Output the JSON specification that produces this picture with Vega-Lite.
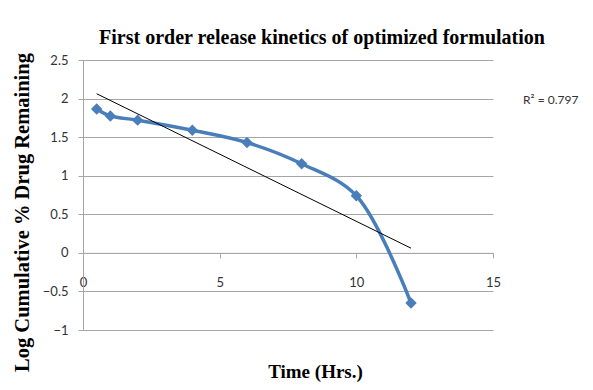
{
  "$schema": "https://vega.github.io/schema/vega-lite/v6.json",
  "autosize": {"type": "none"},
  "width": 410,
  "height": 270,
  "padding": {"left": 83, "top": 60, "right": 100, "bottom": 60},
  "background": "white",
  "title": {
    "text": "First order release kinetics of optimized formulation",
    "font": "Liberation Serif",
    "fontSize": 20,
    "fontWeight": "bold",
    "color": "#000000",
    "anchor": "middle",
    "dx": 34,
    "offset": 5
  },
  "config": {
    "view": {"stroke": null},
    "axis": {
      "labelFont": "Lato",
      "labelFontSize": 13,
      "labelColor": "#333333",
      "labelOverlap": false,
      "labelFlush": false,
      "titleFont": "Liberation Serif",
      "titleFontWeight": "bold",
      "titleColor": "#000000",
      "domainColor": "#a6a6a6",
      "tickColor": "#a6a6a6",
      "gridColor": "#a6a6a6"
    }
  },
  "datasets": {
    "release": [
      {"time": 0.5, "logRemaining": 1.865},
      {"time": 1, "logRemaining": 1.775},
      {"time": 2, "logRemaining": 1.72},
      {"time": 4, "logRemaining": 1.59},
      {"time": 6, "logRemaining": 1.43},
      {"time": 8, "logRemaining": 1.155},
      {"time": 10, "logRemaining": 0.74},
      {"time": 12, "logRemaining": -0.65}
    ],
    "note": [{"time": 16.1, "logRemaining": 1.98, "label": "R² = 0.797"}]
  },
  "encoding": {
    "x": {
      "field": "time", "type": "quantitative",
      "scale": {"domain": [0, 15], "nice": false, "zero": false},
      "axis": {
        "values": [0, 5, 10, 15],
        "format": "",
        "grid": false,
        "offset": -77.14,
        "tickSize": 5,
        "labelPadding": 19,
        "title": "Time (Hrs.)",
        "titleFontSize": 19,
        "titleX": 232,
        "titleY": 119,
        "titleAnchor": null,
        "titleAlign": "center",
        "titleBaseline": "middle"
      }
    },
    "y": {
      "field": "logRemaining", "type": "quantitative",
      "scale": {"domain": [-1, 2.5], "nice": false, "zero": false},
      "axis": {
        "values": [-1, -0.5, 0, 0.5, 1, 1.5, 2, 2.5],
        "format": "",
        "grid": true,
        "tickSize": 5,
        "labelPadding": 10,
        "title": "Log Cumulative % Drug Remaining",
        "titleFontSize": 20.5,
        "titleX": -61,
        "titleY": 152,
        "titleAnchor": null,
        "titleAlign": "center",
        "titleBaseline": "middle",
        "titleAngle": 270
      }
    }
  },
  "layer": [
    {
      "data": {"name": "release"},
      "mark": {"type": "line", "interpolate": "catmull-rom", "color": "#4A7EBB", "strokeWidth": 3.5}
    },
    {
      "data": {"name": "release"},
      "mark": {"type": "point", "shape": "diamond", "filled": true, "color": "#4A7EBB", "opacity": 1, "size": 130}
    },
    {
      "data": {"name": "release"},
      "transform": [{"regression": "logRemaining", "on": "time", "extent": [0.5, 12]}],
      "mark": {"type": "line", "color": "#000000", "strokeWidth": 1}
    },
    {
      "data": {"name": "note"},
      "mark": {"type": "text", "align": "left", "baseline": "middle", "font": "Lato", "fontSize": 12, "color": "#333333", "clip": false},
      "encoding": {
        "text": {"field": "label"}
      }
    }
  ]
}
